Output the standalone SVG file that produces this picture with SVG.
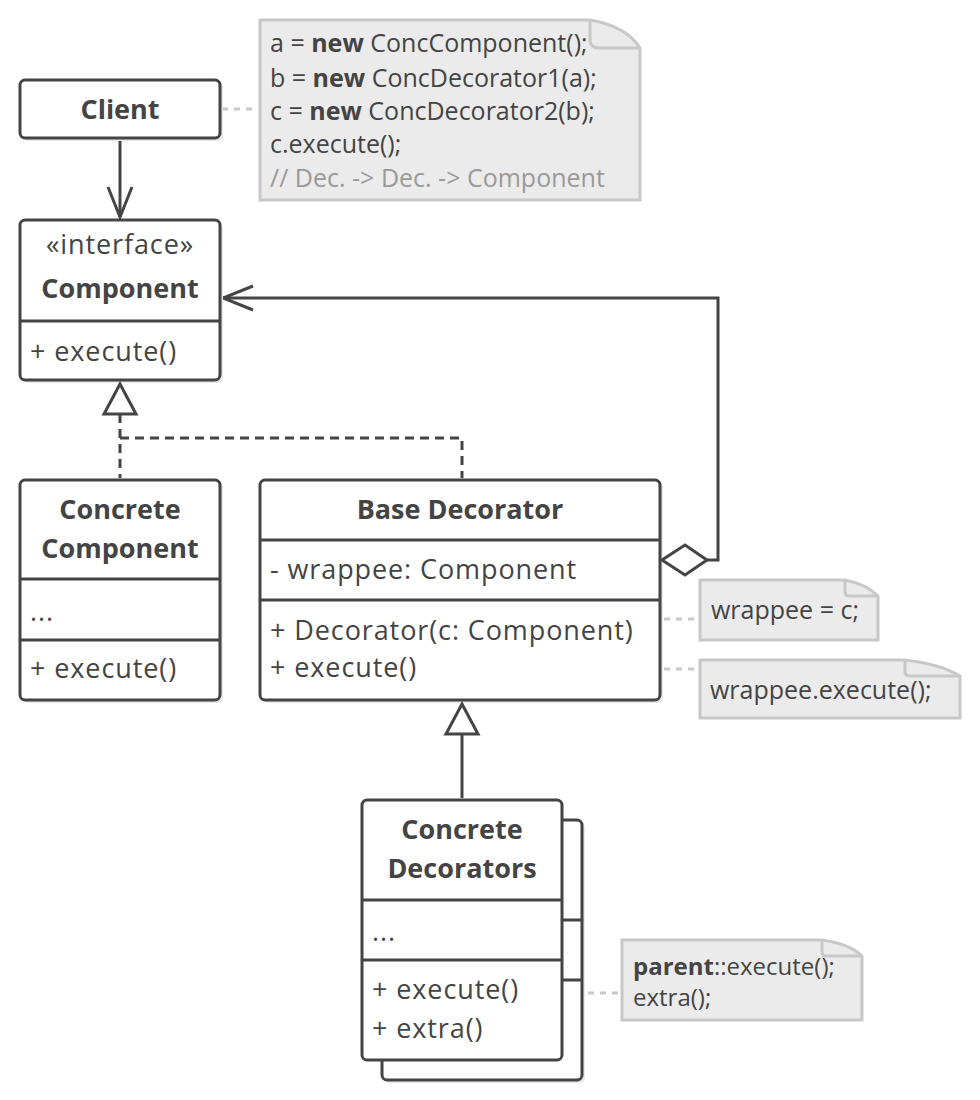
<svg xmlns="http://www.w3.org/2000/svg" width="980" height="1100" viewBox="0 0 980 1100">
<defs>
<style>
text{font-family:"Open Sans","Noto Sans","DejaVu Sans",sans-serif;fill:#444;font-size:27px;letter-spacing:0.9px}
.b{font-weight:bold;letter-spacing:0}
.c{text-anchor:middle}
.box{fill:#fff;stroke:#444;stroke-width:3}
.sh{fill:#e8e8e8}
.ln{fill:none;stroke:#444;stroke-width:3}
.dl{fill:none;stroke:#444;stroke-width:3;stroke-dasharray:9 6}
.dot{fill:none;stroke:#c8c8c8;stroke-width:3;stroke-dasharray:6 6}
.note{fill:#ebebeb;stroke:#c8c8c8;stroke-width:3}
.nt{font-size:25px;letter-spacing:0}
.gr{fill:#999}
</style>
<marker id="open" viewBox="0 0 34 28" refX="32" refY="14" markerWidth="34" markerHeight="28" markerUnits="userSpaceOnUse" orient="auto">
<path d="M2,2 L32,14 L2,26" fill="none" stroke="#444" stroke-width="3"/>
</marker>
</defs>
<g id="connectors">
<path class="dot" d="M222,109 H258"/>
<path class="ln" d="M120,139 V217" marker-end="url(#open)"/>
<path class="ln" d="M707,560 H718 V298 H223" marker-end="url(#open)"/>
<path class="dl" d="M120,414 V478 M120,438 H462 V478"/>
<path class="ln" d="M462,735 V798"/>
<path class="dot" d="M664,619 H698 M664,669 H698 M564,993 H620"/>
</g>
<g id="client">
<rect class="sh" x="23" y="83" width="200" height="58" rx="5"/>
<rect class="box" x="20" y="80" width="200" height="58" rx="5"/>
<text class="b c" x="120" y="119">Client</text>
</g>
<g id="note-client">
<path class="note" d="M260,20 H590 Q626,26 640,48 V200 H260 Z"/>
<path fill="none" stroke="#c8c8c8" stroke-width="3" d="M590,20 V40 Q590,48 600,48 H640"/>
<text class="nt" x="270" y="52">a = <tspan class="b">new</tspan> ConcComponent();</text>
<text class="nt" x="270" y="87">b = <tspan class="b">new</tspan> ConcDecorator1(a);</text>
<text class="nt" x="270" y="120">c = <tspan class="b">new</tspan> ConcDecorator2(b);</text>
<text class="nt" x="270" y="153">c.execute();</text>
<text class="nt gr" x="270" y="187">// Dec. -&gt; Dec. -&gt; Component</text>
</g>
<g id="component">
<rect class="sh" x="23" y="223" width="200" height="160" rx="5"/>
<rect class="box" x="20" y="220" width="200" height="160" rx="5"/>
<path class="ln" d="M20,321 H220"/>
<text class="c" x="120" y="254">«interface»</text>
<text class="b c" x="120" y="298">Component</text>
<text x="30" y="361">+ execute()</text>
</g>
<g id="realize-head">
<path d="M120,384 L104,414 H136 Z" fill="#fff" stroke="#444" stroke-width="3"/>
</g>
<g id="concrete-component">
<rect class="sh" x="23" y="483" width="200" height="220" rx="5"/>
<rect class="box" x="20" y="480" width="200" height="220" rx="5"/>
<path class="ln" d="M20,579 H220 M20,640 H220"/>
<text class="b c" x="120" y="519">Concrete</text>
<text class="b c" x="120" y="558">Component</text>
<text x="30" y="621">...</text>
<text x="30" y="678">+ execute()</text>
</g>
<g id="base-decorator">
<rect class="sh" x="263" y="483" width="400" height="220" rx="5"/>
<rect class="box" x="260" y="480" width="400" height="220" rx="5"/>
<path class="ln" d="M260,540 H660 M260,600 H660"/>
<text class="b c" x="460" y="519">Base Decorator</text>
<text x="270" y="579">- wrappee: Component</text>
<text x="270" y="640">+ Decorator(c: Component)</text>
<text x="270" y="677">+ execute()</text>
<path d="M662,560 L685,545 L707,560 L685,575 Z" fill="#fff" stroke="#444" stroke-width="3"/>
</g>
<g id="note-wrappee">
<path class="note" d="M700,580 H845 Q866,584 878,596 V640 H700 Z"/>
<path fill="none" stroke="#c8c8c8" stroke-width="3" d="M845,580 V592 Q845,596 850,596 H878"/>
<text class="nt" x="711" y="619">wrappee = c;</text>
</g>
<g id="note-execute">
<path class="note" d="M700,660 H905 Q940,664 960,676 V718 H700 Z"/>
<path fill="none" stroke="#c8c8c8" stroke-width="3" d="M905,660 V672 Q905,676 910,676 H960"/>
<text class="nt" x="710" y="699">wrappee.execute();</text>
</g>
<g id="inherit-head">
<path d="M462,704 L446,734 H478 Z" fill="#fff" stroke="#444" stroke-width="3"/>
</g>
<g id="concrete-decorators">
<rect class="sh" x="385" y="823" width="200" height="260" rx="5"/>
<rect class="box" x="382" y="820" width="200" height="260" rx="5"/>
<path class="ln" d="M562,920 H582 M562,980 H582"/>
<rect class="box" x="362" y="800" width="200" height="260" rx="5"/>
<path class="ln" d="M362,900 H562 M362,960 H562"/>
<text class="b c" x="462" y="839">Concrete</text>
<text class="b c" x="462" y="878">Decorators</text>
<text x="372" y="941">...</text>
<text x="372" y="999">+ execute()</text>
<text x="372" y="1038">+ extra()</text>
</g>
<g id="note-parent">
<path class="note" d="M622,940 H822 Q850,944 862,956 V1020 H622 Z"/>
<path fill="none" stroke="#c8c8c8" stroke-width="3" d="M822,940 V952 Q822,956 827,956 H862"/>
<text class="nt" x="633" y="975" style="font-size:24px"><tspan class="b">parent</tspan>::execute();</text>
<text class="nt" x="633" y="1006" style="font-size:24px">extra();</text>
</g>
</svg>
